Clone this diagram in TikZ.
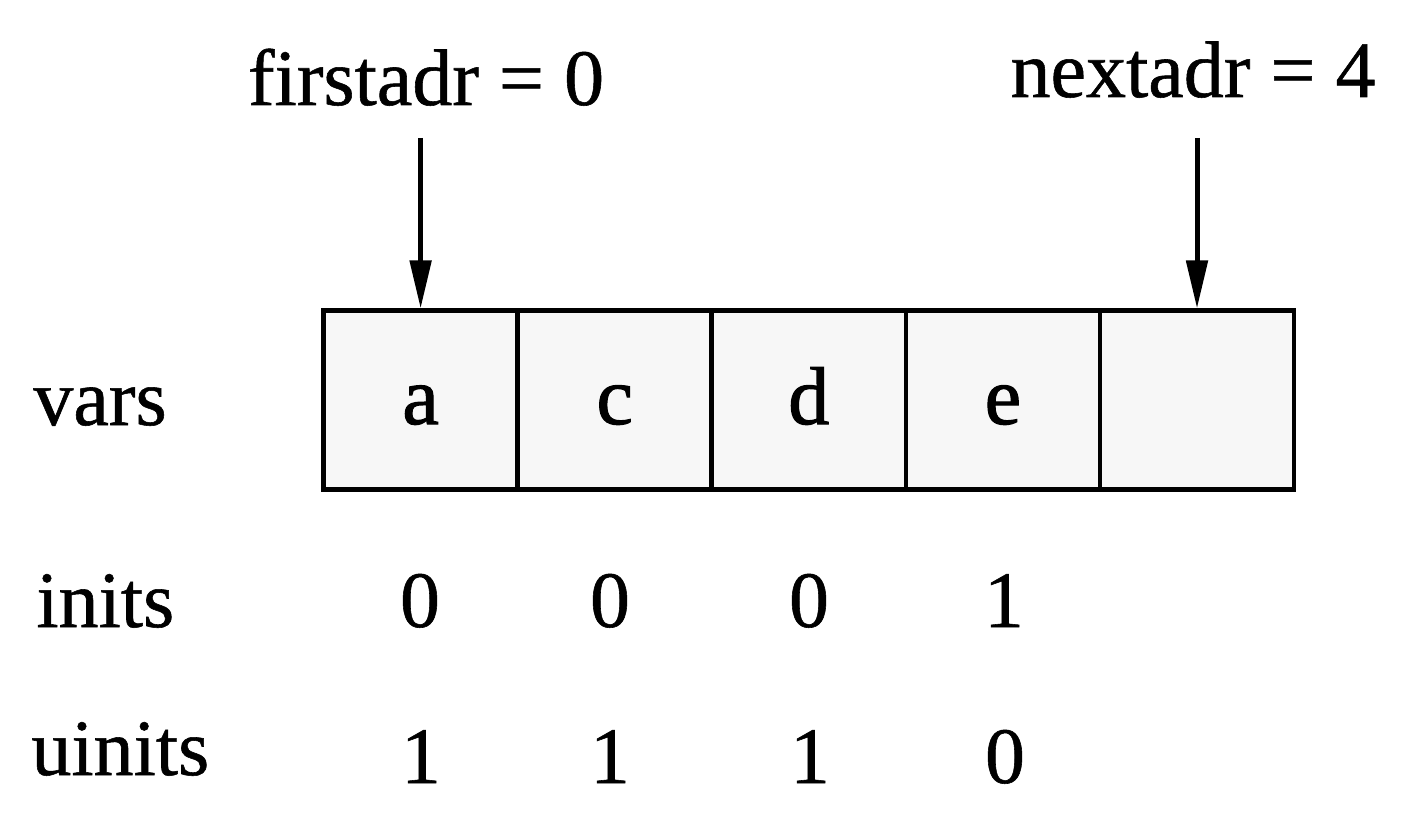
\documentclass[tikz,border=0pt]{standalone}
\usepackage{fontspec}
\setmainfont{Liberation Serif}[FakeBold=0.7]
\newfontfamily\cellfont{Liberation Serif}[FakeBold=1.4]
\usetikzlibrary{arrows.meta}
\begin{document}
\begin{tikzpicture}[x=0.5pt,y=-0.5pt,
  every node/.style={inner sep=0pt, font=\fontsize{40}{48}\selectfont},
  cell/.style={draw, fill=gray!6, line width=2.25pt, minimum width=97pt, minimum height=89.25pt, text height=24pt, text depth=0pt, font=\cellfont\fontsize{41}{48}\selectfont},
  lbl/.style={anchor=base west},
  val/.style={anchor=base},
  ptr/.style={line width=2.5pt, -{Triangle[length=24pt,width=10.5pt]}}
]
\path[use as bounding box] (0,0) rectangle (1418,828);
% cells
\node[cell] (c1) at (420.6,400) {a};
\node[cell] (c2) at (614.7,400) {c};
\node[cell] (c3) at (808.8,400) {d};
\node[cell] (c4) at (1002.9,400) {e};
\node[cell] (c5) at (1197,400) {};
% pointer labels
\node[val] (first) at (426,105) {firstadr = 0};
\node[val] (next) at (1193,97) {nextadr = 4};
\coordinate (fa) at (420.6,138);
\coordinate (na) at (1197,138);
\draw[ptr] (fa) -- (c1.north);
\draw[ptr] (na) -- (c5.north);
% row labels
\node[lbl] (vars) at (33,425) {vars};
\node[lbl] (inits) at (36,627) {inits};
\node[lbl] (uinits) at (31,775) {uinits};
% inits values
\node[val] (i1) at (420,627) {0};
\node[val] (i2) at (610,627) {0};
\node[val] (i3) at (809,627) {0};
\node[val] (i4) at (1004,627) {1};
% uinits values
\node[val] (u1) at (421,783) {1};
\node[val] (u2) at (610,783) {1};
\node[val] (u3) at (810,783) {1};
\node[val] (u4) at (1005,783) {0};
\end{tikzpicture}
\end{document}
